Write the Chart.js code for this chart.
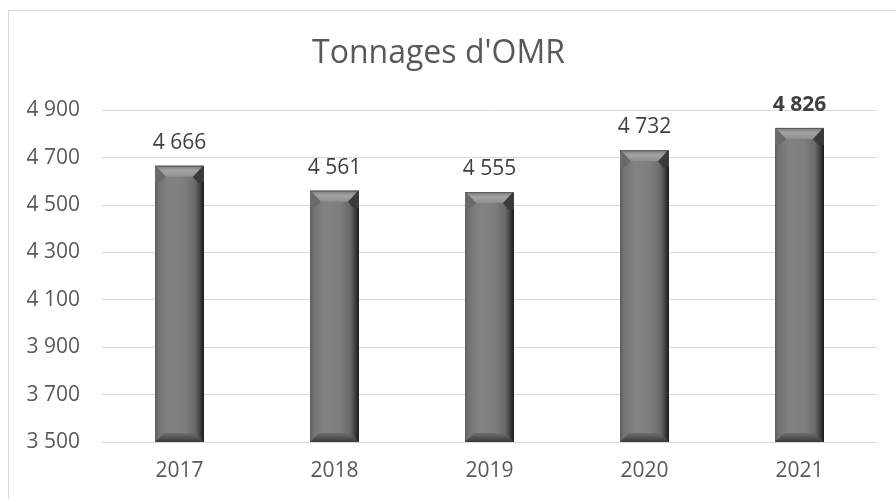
<!DOCTYPE html>
<html>
<head>
<meta charset="utf-8">
<script src="https://cdn.jsdelivr.net/npm/chart.js@4.4.0/dist/chart.umd.min.js"></script>
<style>
  html, body { margin: 0; padding: 0; background: #fff; }
  #wrap { position: relative; width: 896px; height: 499px; overflow: hidden; }
  #frame { position: absolute; left: 8px; top: 10px; width: 920px; height: 520px; border: 1px solid #d9d9d9; box-sizing: border-box; }
  canvas { position: absolute; left: 0; top: 0; }
</style>
</head>
<body>
<div id="wrap">
  <div id="frame"></div>
  <canvas id="c" width="896" height="499"></canvas>
</div>
<script>
const categories = ['2017', '2018', '2019', '2020', '2021'];
const tonnages = [4666, 4561, 4555, 4732, 4826];
const yTicks = [3500, 3700, 3900, 4100, 4300, 4500, 4700, 4900];
const chartTitle = "Tonnages d'OMR";

const FONT = "'Open Sans', 'Noto Sans', sans-serif";

function fmt(v) {
  return String(Math.round(v)).replace(/\B(?=(\d{3})+(?!\d))/g, ' ');
}

// Paints each bar (positions taken from Chart.js bar elements) with a bevelled look
const bevelPlugin = {
  id: 'bevel',
  afterDatasetsDraw(chart) {
    const c = chart.ctx;
    const area = chart.chartArea;
    const meta = chart.getDatasetMeta(0);
    c.save();
    c.beginPath();
    c.rect(area.left, area.top, area.right - area.left, area.bottom - area.top);
    c.clip();
    meta.data.forEach(el => {
      const p = el.getProps(['x', 'y', 'base', 'width'], true);
      const w = p.width, l = p.x - w / 2, r = p.x + w / 2;
      const top = p.y, bot = Math.min(p.base, area.bottom);
      // body: horizontal gradient
      let g = c.createLinearGradient(l, 0, r, 0);
      g.addColorStop(0, '#5c5c5c');
      g.addColorStop(0.07, '#727272');
      g.addColorStop(0.3, '#828282');
      g.addColorStop(0.6, '#7e7e7e');
      g.addColorStop(0.82, '#6a6a6a');
      g.addColorStop(0.92, '#404040');
      g.addColorStop(1, '#1a1a1a');
      c.fillStyle = g;
      c.fillRect(l, top, w, bot - top);
      // top bevel trapezoid
      const bv = 11;
      g = c.createLinearGradient(0, top, 0, top + bv);
      g.addColorStop(0, '#7a7a7a');
      g.addColorStop(0.45, '#a4a4a4');
      g.addColorStop(1, '#8e8e8e');
      c.fillStyle = g;
      c.beginPath();
      c.moveTo(l + 1, top); c.lineTo(r - 1, top); c.lineTo(r - bv, top + bv); c.lineTo(l + bv, top + bv); c.closePath();
      c.fill();
      // left facet of top bevel (darker)
      c.fillStyle = '#6a6a6a';
      c.beginPath();
      c.moveTo(l, top); c.lineTo(l + bv, top + bv); c.lineTo(l + 4, top + bv + 6); c.lineTo(l, top + bv + 6); c.closePath();
      c.fill();
      // right facet of top bevel (dark)
      c.fillStyle = '#3a3a3a';
      c.beginPath();
      c.moveTo(r, top); c.lineTo(r - bv, top + bv); c.lineTo(r - 6, top + bv + 6); c.lineTo(r, top + bv + 6); c.closePath();
      c.fill();
      // bottom bevel
      const bb = 9;
      g = c.createLinearGradient(0, bot - bb, 0, bot);
      g.addColorStop(0, '#6e6e6e');
      g.addColorStop(1, '#3a3a3a');
      c.fillStyle = g;
      c.beginPath();
      c.moveTo(l + bb, bot - bb); c.lineTo(r - bb, bot - bb); c.lineTo(r, bot); c.lineTo(l, bot); c.closePath();
      c.fill();
      // top edge line
      c.strokeStyle = '#5a5a5a';
      c.lineWidth = 1;
      c.beginPath(); c.moveTo(l, top + 0.5); c.lineTo(r, top + 0.5); c.stroke();
    });
    c.restore();
  }
};

const labelPlugin = {
  id: 'valueLabels',
  afterDatasetsDraw(chart) {
    const c = chart.ctx;
    const meta = chart.getDatasetMeta(0);
    const ds = chart.data.datasets[0];
    c.save();
    c.textAlign = 'center';
    c.textBaseline = 'alphabetic';
    meta.data.forEach((el, i) => {
      const last = i === meta.data.length - 1;
      c.font = (last ? 'bold ' : '') + '21px ' + FONT;
      c.fillStyle = '#404040';
      c.fillText(fmt(ds.data[i]), el.x, el.y - 17);
    });
    c.restore();
  }
};

new Chart(document.getElementById('c'), {
  type: 'bar',
  data: {
    labels: categories,
    datasets: [{
      data: tonnages,
      backgroundColor: '#7f7f7f',
      borderWidth: 0,
      barPercentage: 0.316,
      categoryPercentage: 1
    }]
  },
  options: {
    responsive: false,
    animation: false,
    events: [],
    layout: { padding: { left: 0, right: 19, top: 0, bottom: 0 } },
    plugins: {
      legend: { display: false },
      tooltip: { enabled: false },
      title: {
        display: true,
        text: chartTitle,
        color: '#595959',
        font: { family: FONT, size: 32, weight: 'normal' },
        padding: { top: 35, bottom: 37 }
      }
    },
    scales: {
      x: {
        grid: { display: false, drawTicks: false },
        border: { display: false },
        ticks: { color: '#595959', font: { family: FONT, size: 21 }, padding: 16 },
        afterFit(s) { s.height = 57; }
      },
      y: {
        min: 3500, max: 4900,
        afterBuildTicks(s) { s.ticks = yTicks.map(v => ({ value: v })); },
        grid: { color: '#d9d9d9', lineWidth: 1, drawTicks: false },
        border: { display: false },
        ticks: { color: '#595959', font: { family: FONT, size: 21 }, padding: 22, callback: v => fmt(v) },
        afterFit(s) { s.width = 102; }
      }
    }
  },
  plugins: [bevelPlugin, labelPlugin]
});
</script>
</body>
</html>
